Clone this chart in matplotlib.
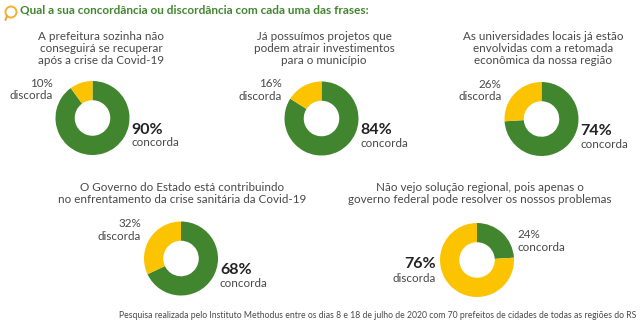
import matplotlib.pyplot as plt
from matplotlib.patches import Circle

# dados
titulo = "Qual a sua concordância ou discordância com cada uma das frases:"
frases = [
    "A prefeitura sozinha não\nconseguirá se recuperar\napós a crise da Covid-19",
    "Já possuímos projetos que\npodem atrair investimentos\npara o município",
    "As universidades locais já estão\nenvolvidas com a retomada\neconômica da nossa região",
    "O Governo do Estado está contribuindo\nno enfrentamento da crise sanitária da Covid-19",
    "Não vejo solução regional, pois apenas o\ngoverno federal pode resolver os nossos problemas",
]
concorda = [90, 84, 74, 68, 24]
discorda = [10, 16, 26, 32, 76]
fonte = ("Pesquisa realizada pelo Instituto Methodus entre os dias 8 e 18 de julho "
         "de 2020 com 70 prefeitos de cidades de todas as regiões do RS")

VERDE = "#41862f"
AMARELO = "#fcc300"
CINZA = "#484848"
W, H = 640, 326

plt.rcParams['font.family'] = ['Lato', 'DejaVu Sans']

fig = plt.figure(figsize=(W / 100, H / 100), dpi=100)


def px(x, y):
    return x / W, 1 - y / H


def texto(x, y, s, **kw):
    fx, fy = px(x, y)
    fig.text(fx, fy, s, **kw)


# layout (centro x, centro y, raio, centro do título x, topo do título y)
layout = [
    (92.5, 118, 37, 101, 31),
    (321.5, 118.5, 37, 324, 31),
    (541.5, 119, 37, 543, 31),
    (181, 258.5, 37, 182, 182),
    (477, 260, 37, 480, 182),
]

for i, (cx, cy, r, tx, ty) in enumerate(layout):
    ax = fig.add_axes([(cx - r) / W, 1 - (cy + r) / H, 2 * r / W, 2 * r / H])
    ax.pie([concorda[i], discorda[i]], colors=[VERDE, AMARELO], startangle=90,
           counterclock=False, radius=1, wedgeprops=dict(width=0.52, linewidth=0))
    ax.set_xlim(-1, 1)
    ax.set_ylim(-1, 1)
    ax.axis('off')

    texto(tx, ty, frases[i], ha='center', va='top', fontsize=8.4,
          color=CINZA, linespacing=1.13)

    if concorda[i] >= discorda[i]:
        texto(cx - r - 3, cy - 28.5, "%d%%\ndiscorda" % discorda[i], ha='right',
              va='center', fontsize=8.4, color=CINZA, linespacing=1.13)
        texto(cx + r + 2, cy + 12, "%d%%" % concorda[i], ha='left', va='center',
              fontsize=11.5, fontweight='bold', color='#222222')
        texto(cx + r + 2, cy + 25, "concorda", ha='left', va='center',
              fontsize=8.4, color=CINZA)
    else:
        texto(cx + r + 3, cy - 19, "%d%%\nconcorda" % concorda[i], ha='left',
              va='center', fontsize=8.4, color=CINZA, linespacing=1.13)
        texto(cx - r - 4, cy + 4, "%d%%" % discorda[i], ha='right', va='center',
              fontsize=11.5, fontweight='bold', color='#222222')
        texto(cx - r - 4, cy + 18, "discorda", ha='right', va='center',
              fontsize=8.4, color=CINZA)

# cabeçalho
texto(20, 10, titulo, ha='left', va='center', fontsize=8.5, fontweight='bold',
      color=VERDE)
ax0 = fig.add_axes([0, 0, 1, 1], facecolor='none')
ax0.set_xlim(0, W)
ax0.set_ylim(H, 0)
ax0.axis('off')
ax0.add_patch(Circle((11, 12), 5.5, fill=False, edgecolor='#f2b134', linewidth=1.4))
ax0.plot([7, 5.5], [16, 20], color='#e8a33a', linewidth=1.4, solid_capstyle='round')

texto(636, 315, fonte, ha='right', va='center', fontsize=6.2, color=CINZA)

fig.savefig("out.png", dpi=100)
